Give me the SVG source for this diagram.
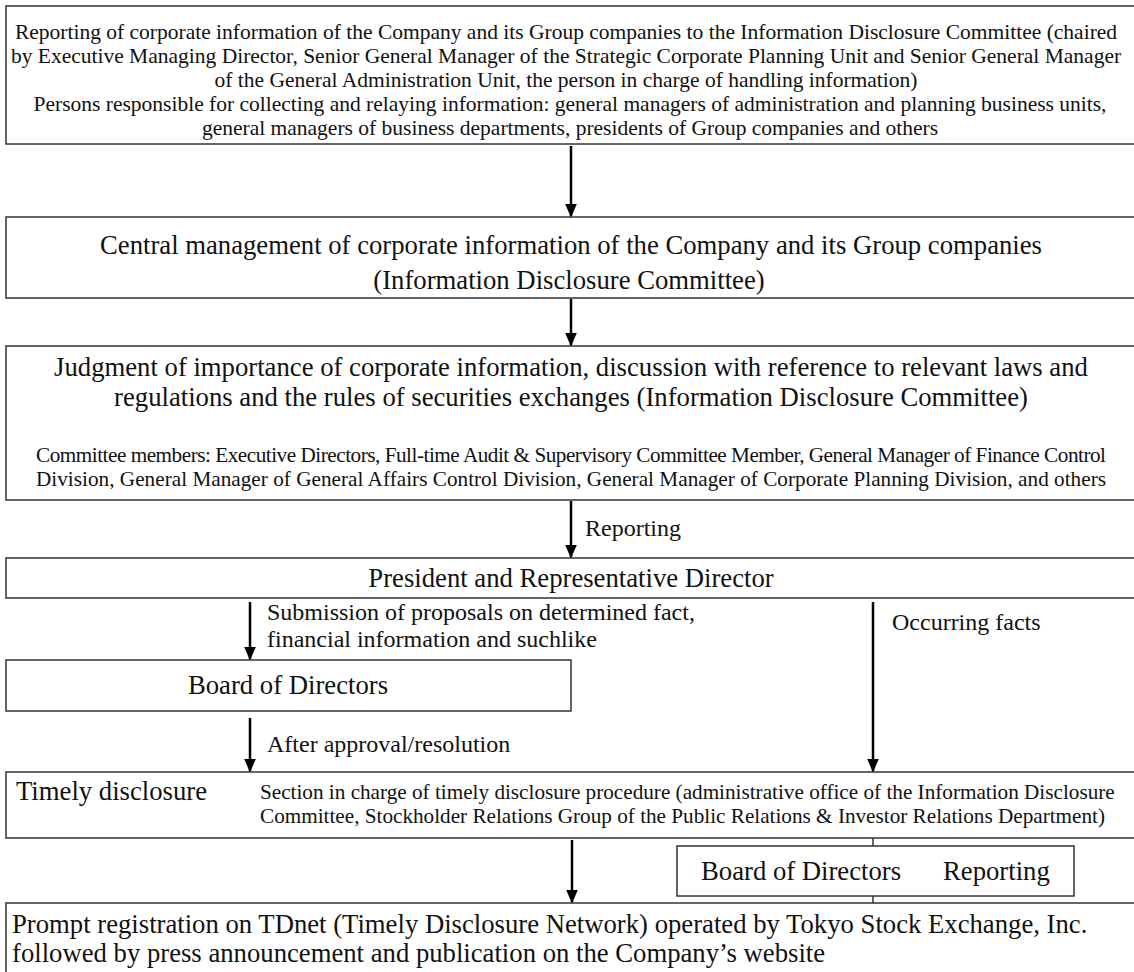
<svg xmlns="http://www.w3.org/2000/svg" width="1134" height="972" viewBox="0 0 1134 972">
<style>
.box{fill:#fff;stroke:#333;stroke-width:1.5}
.t{font-family:"Liberation Serif","Times New Roman",serif;fill:#111}
.s{font-size:21.5px}
.s2{font-size:21.2px}
.l{font-size:26.7px}
.m{font-size:24px}
.c{text-anchor:middle}
.arr{stroke:#000;stroke-width:2.5;fill:none;marker-end:url(#ah)}
.tick{stroke:#333;stroke-width:1.5}
</style>
<defs>
<marker id="ah" markerWidth="6" markerHeight="6" refX="5" refY="3" orient="auto" markerUnits="strokeWidth"><path d="M0,0.6 L5.6,3 L0,5.4 Z" fill="#000"/></marker>
</defs>
<rect width="1134" height="972" fill="#fff"/>
<g id="n1">
<rect class="box" x="6" y="6" width="1140" height="138"/>
<text class="t s c" x="566" y="39">Reporting of corporate information of the Company and its Group companies to the Information Disclosure Committee (chaired</text>
<text class="t s c" x="566" y="63">by Executive Managing Director, Senior General Manager of the Strategic Corporate Planning Unit and Senior General Manager</text>
<text class="t s c" x="566" y="87">of the General Administration Unit, the person in charge of handling information)</text>
<text class="t s c" x="570" y="111">Persons responsible for collecting and relaying information: general managers of administration and planning business units,</text>
<text class="t s c" x="570" y="135">general managers of business departments, presidents of Group companies and others</text>
</g>
<g id="n2">
<rect class="box" x="6" y="217" width="1140" height="81"/>
<text class="t l c" x="571" y="254">Central management of corporate information of the Company and its Group companies</text>
<text class="t l c" x="569" y="289">(Information Disclosure Committee)</text>
</g>
<g id="n3">
<rect class="box" x="6" y="346" width="1140" height="154"/>
<text class="t l c" x="571" y="376">Judgment of importance of corporate information, discussion with reference to relevant laws and</text>
<text class="t l c" x="571" y="406">regulations and the rules of securities exchanges (Information Disclosure Committee)</text>
<text class="t s2 c" x="571" y="462" textLength="1070" lengthAdjust="spacing">Committee members: Executive Directors, Full-time Audit &amp; Supervisory Committee Member, General Manager of Finance Control</text>
<text class="t s2 c" x="571" y="486" textLength="1070" lengthAdjust="spacing">Division, General Manager of General Affairs Control Division, General Manager of Corporate Planning Division, and others</text>
</g>
<g id="n4">
<rect class="box" x="6" y="558" width="1140" height="40"/>
<text class="t l c" x="571" y="587">President and Representative Director</text>
</g>
<g id="n5">
<rect class="box" x="6" y="660" width="565" height="51"/>
<text class="t l c" x="288" y="694">Board of Directors</text>
</g>
<g id="n6">
<rect class="box" x="6" y="772" width="1140" height="66"/>
<text class="t l" x="16" y="800">Timely disclosure</text>
<text class="t s2" x="260" y="799">Section in charge of timely disclosure procedure (administrative office of the Information Disclosure</text>
<text class="t s2" x="260" y="823">Committee, Stockholder Relations Group of the Public Relations &amp; Investor Relations Department)</text>
</g>
<g id="n7">
<rect class="box" x="6" y="903" width="1140" height="80"/>
<text class="t l" x="12" y="933">Prompt registration on TDnet (Timely Disclosure Network) operated by Tokyo Stock Exchange, Inc.</text>
<text class="t l" x="12" y="962">followed by press announcement and publication on the Company’s website</text>
</g>
<g id="n8">
<rect class="box" x="677" y="846" width="397" height="50"/>
<text class="t l" x="701" y="880">Board of Directors</text>
<text class="t l" x="943" y="880">Reporting</text>
</g>
<g id="connectors">
<line class="arr" x1="571" y1="146" x2="571" y2="216"/>
<line class="arr" x1="571" y1="299" x2="571" y2="345"/>
<line class="arr" x1="571" y1="501" x2="571" y2="557"/>
<line class="arr" x1="250" y1="602" x2="250" y2="659"/>
<line class="arr" x1="250" y1="718" x2="250" y2="771"/>
<line class="arr" x1="873" y1="602" x2="873" y2="771"/>
<line class="arr" x1="572" y1="840" x2="572" y2="902"/>
<line class="tick" x1="873" y1="838" x2="873" y2="846"/>
<line class="tick" x1="873" y1="896" x2="873" y2="903"/>
<text class="t m" x="585" y="536">Reporting</text>
<text class="t m" x="267" y="620">Submission of proposals on determined fact,</text>
<text class="t m" x="267" y="647">financial information and suchlike</text>
<text class="t m" x="892" y="630">Occurring facts</text>
<text class="t m" x="267" y="752">After approval/resolution</text>
</g>
</svg>
